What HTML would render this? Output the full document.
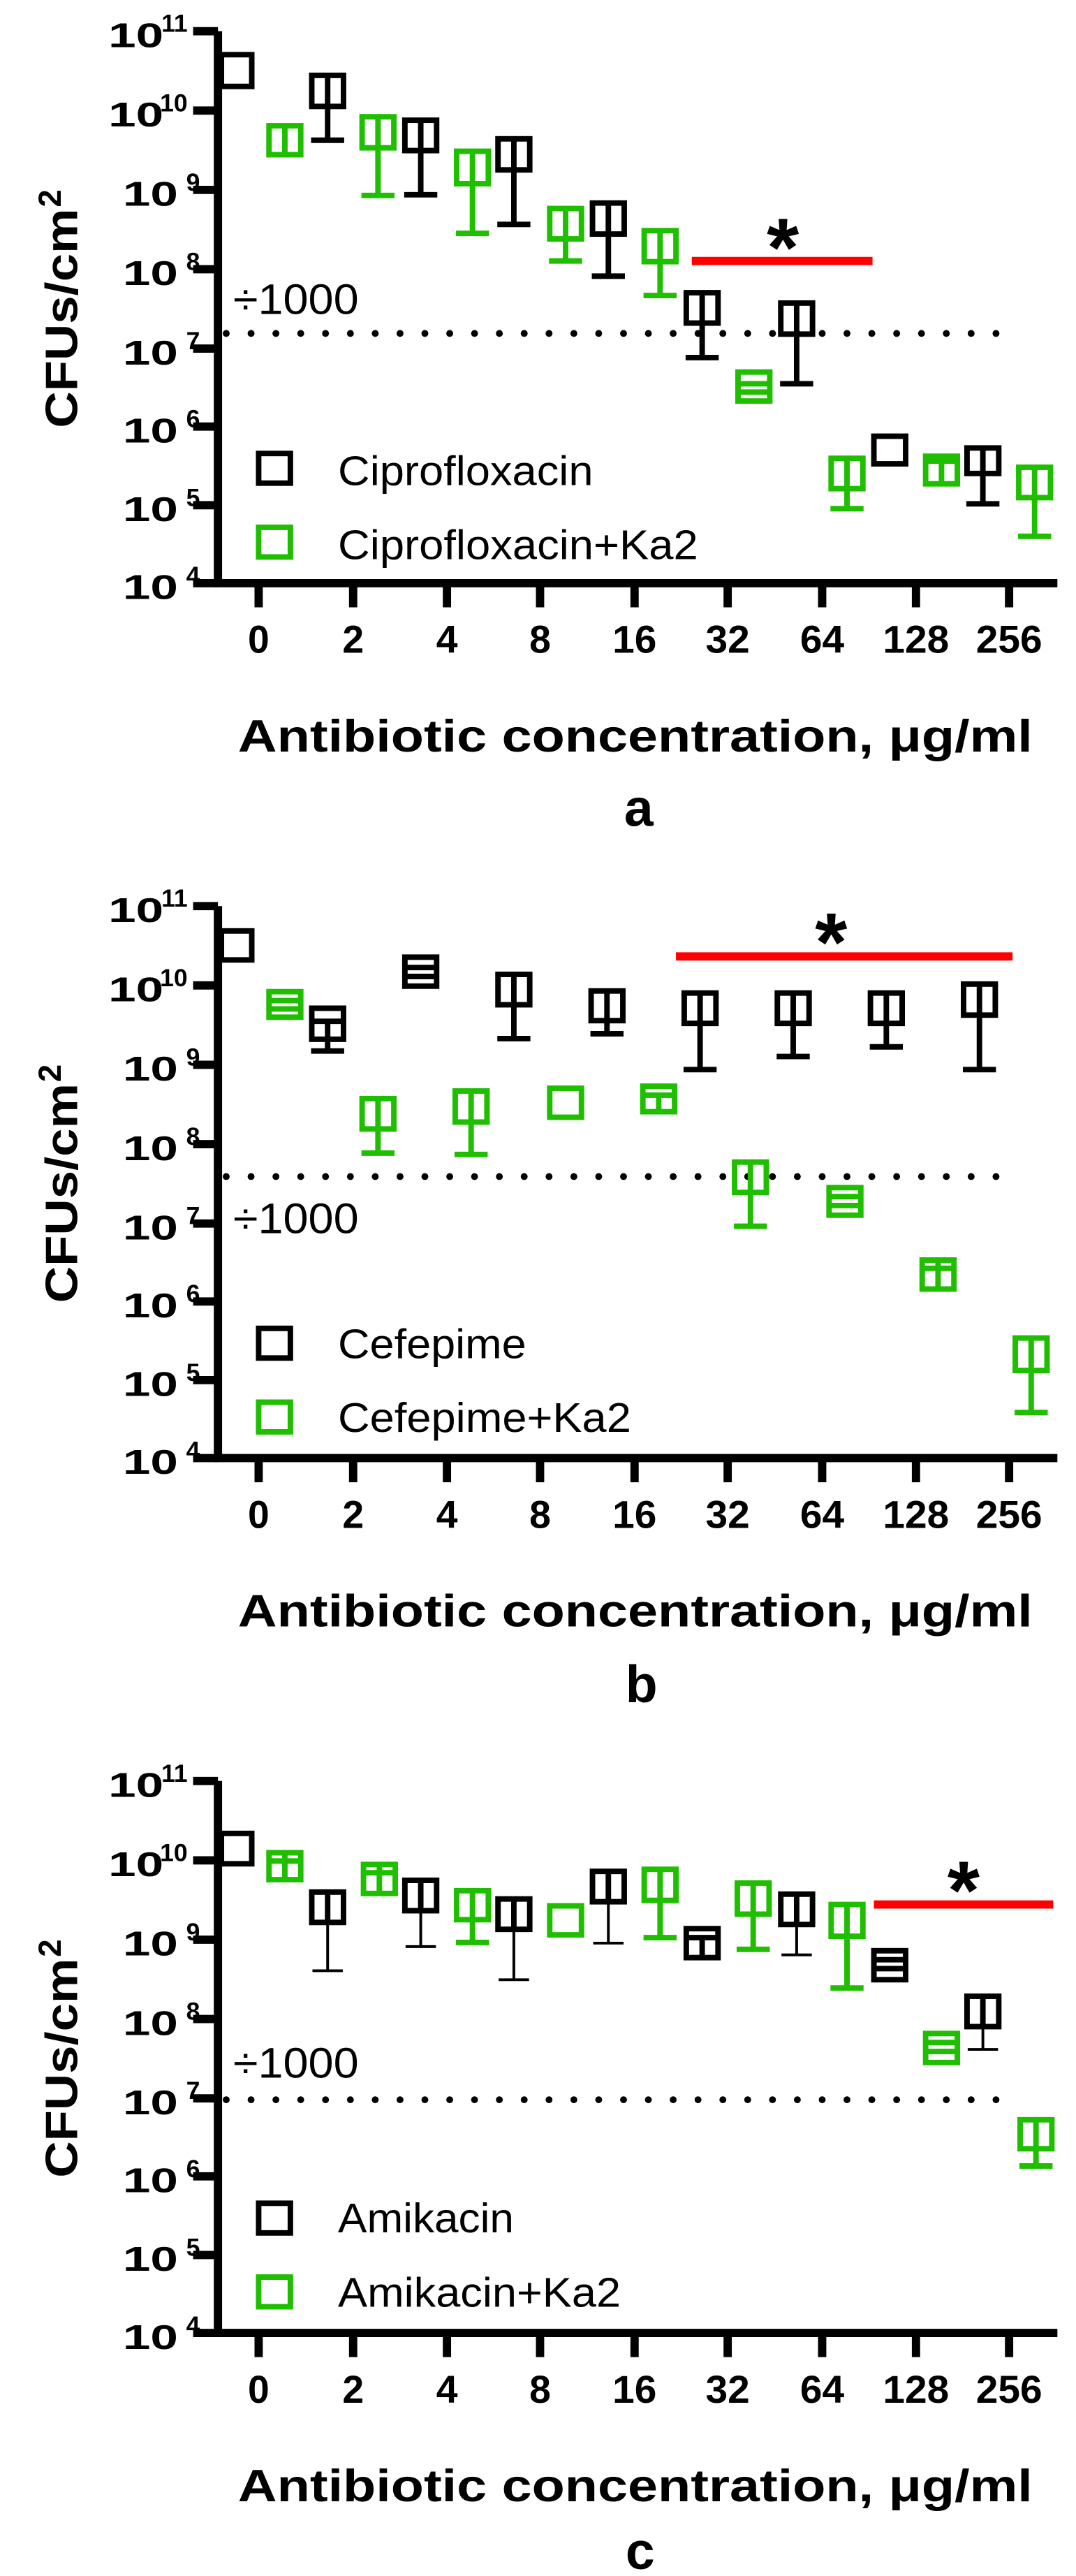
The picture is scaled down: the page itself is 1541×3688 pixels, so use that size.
<!DOCTYPE html>
<html><head><meta charset="utf-8"><style>html,body{margin:0;padding:0;background:#fff}svg{display:block}</style></head>
<body>
<svg xmlns="http://www.w3.org/2000/svg" width="1541" height="3688" viewBox="0 0 1560 3733" font-family="Liberation Sans, Arial, sans-serif">
<defs>
<g id="axes">
  <path d="M316 45 V845 H1533" fill="none" stroke="#000" stroke-width="12"/>
  <path d="M280 45H316M280 160H316M280 275H316M280 390H316M280 505H316M280 618H316M280 732H316M280 845H316" stroke="#000" stroke-width="12"/>
  <path d="M375 845V880M512 845V880M648 845V880M783 845V880M920 845V880M1055 845V880M1192 845V880M1328 845V880M1463 845V880" stroke="#000" stroke-width="12"/>
  <g font-weight="bold" font-size="50" text-anchor="end" lengthAdjust="spacingAndGlyphs">
    <text x="237" y="68" textLength="80" lengthAdjust="spacingAndGlyphs">10</text>
    <text x="237" y="183" textLength="80" lengthAdjust="spacingAndGlyphs">10</text>
    <text x="258" y="298" textLength="80" lengthAdjust="spacingAndGlyphs">10</text>
    <text x="258" y="413" textLength="80" lengthAdjust="spacingAndGlyphs">10</text>
    <text x="258" y="528" textLength="80" lengthAdjust="spacingAndGlyphs">10</text>
    <text x="258" y="641" textLength="80" lengthAdjust="spacingAndGlyphs">10</text>
    <text x="258" y="755" textLength="80" lengthAdjust="spacingAndGlyphs">10</text>
    <text x="258" y="868" textLength="80" lengthAdjust="spacingAndGlyphs">10</text>
  </g>
  <g font-weight="bold" font-size="36" text-anchor="end">
    <text x="272" y="46">11</text><text x="272" y="161">10</text>
    <text x="290" y="276">9</text><text x="290" y="391">8</text><text x="290" y="506">7</text>
    <text x="290" y="619">6</text><text x="290" y="733">5</text><text x="290" y="846">4</text>
  </g>
  <g font-weight="bold" font-size="56" text-anchor="middle">
    <text x="375" y="946">0</text><text x="512" y="946">2</text><text x="648" y="946">4</text>
    <text x="783" y="946">8</text>
    <text x="920" y="946" textLength="64" lengthAdjust="spacingAndGlyphs">16</text>
    <text x="1055" y="946" textLength="64" lengthAdjust="spacingAndGlyphs">32</text>
    <text x="1192" y="946" textLength="64" lengthAdjust="spacingAndGlyphs">64</text>
    <text x="1328" y="946" textLength="96" lengthAdjust="spacingAndGlyphs">128</text>
    <text x="1463" y="946" textLength="96" lengthAdjust="spacingAndGlyphs">256</text>
  </g>
  <text x="345" y="1089" font-weight="bold" font-size="66" textLength="1152" lengthAdjust="spacingAndGlyphs">Antibiotic concentration, μg/ml</text>
  <g transform="translate(112,620) rotate(-90)" font-weight="bold">
    <text x="0" y="0" font-size="66" textLength="318" lengthAdjust="spacingAndGlyphs">CFUs/cm</text>
    <text x="320" y="-24" font-size="46">2</text>
  </g>
  <rect x="375" y="657" width="46" height="43" fill="none" stroke="#000" stroke-width="8"/>
  <rect x="375" y="764" width="46" height="43" fill="none" stroke="#1fbf00" stroke-width="8"/>
</g>
</defs>

<!-- Panel a -->
<use href="#axes"/>
<text x="926" y="1197" font-weight="bold" font-size="76" text-anchor="middle">a</text>
<text x="490" y="703" font-size="60" textLength="370" lengthAdjust="spacingAndGlyphs">Ciprofloxacin</text>
<text x="490" y="810" font-size="60" textLength="522" lengthAdjust="spacingAndGlyphs">Ciprofloxacin+Ka2</text>
<text x="338" y="455" font-size="62" textLength="182" lengthAdjust="spacingAndGlyphs">÷1000</text>
<line x1="328" y1="483" x2="1460" y2="483" stroke="#000" stroke-width="10" stroke-linecap="round" stroke-dasharray="0 36"/>
<line x1="1003" y1="378" x2="1265" y2="378" stroke="#f00" stroke-width="12"/>
<text x="1135" y="400" font-weight="bold" font-size="120" text-anchor="middle">*</text>
<g fill="none" stroke="#000" stroke-width="8">
  <rect x="321" y="79" width="44" height="46"/>
  <rect x="452" y="109" width="46" height="45"/><path d="M475 109V203M451 203H499"/>
  <rect x="587" y="174" width="46" height="44"/><path d="M610 174V282M586 282H634"/>
  <rect x="722" y="201" width="46" height="45"/><path d="M745 201V325M721 325H769"/>
  <rect x="859" y="294" width="46" height="45"/><path d="M882 294V400M858 400H906"/>
  <rect x="995" y="424" width="46" height="44"/><path d="M1018 424V518M994 518H1042"/>
  <rect x="1132" y="439" width="46" height="45"/><path d="M1155 439V556M1131 556H1179"/>
  <rect x="1267" y="632" width="46" height="40"/>
  <rect x="1402" y="649" width="46" height="37"/><path d="M1425 649V730M1401 730H1449"/>
</g>
<g fill="none" stroke="#1fbf00" stroke-width="8">
  <rect x="390" y="182" width="46" height="42"/><path d="M413 182V224"/>
  <rect x="525" y="169" width="46" height="45"/><path d="M548 169V283M524 283H572"/>
  <rect x="662" y="219" width="46" height="47"/><path d="M685 219V338M661 338H709"/>
  <rect x="797" y="302" width="46" height="44"/><path d="M820 302V378M796 378H844"/>
  <rect x="934" y="334" width="46" height="45"/><path d="M957 334V428M933 428H981"/>
  <rect x="1070" y="539" width="46" height="42"/><path d="M1070 556H1116M1070 568H1116"/>
  <rect x="1205" y="664" width="46" height="44"/><path d="M1228 664V737M1204 737H1252"/>
  <rect x="1342" y="661" width="46" height="40"/><path d="M1342 668H1388M1365 668V701"/>
  <rect x="1477" y="677" width="46" height="44"/><path d="M1500 677V777M1476 777H1524"/>
</g>

<!-- Panel b -->
<use href="#axes" y="1268"/>
<g transform="translate(0,1265)">
<text x="930" y="1202" font-weight="bold" font-size="76" text-anchor="middle">b</text>
<text x="490" y="703" font-size="60" textLength="273" lengthAdjust="spacingAndGlyphs">Cefepime</text>
<text x="490" y="810" font-size="60" textLength="425" lengthAdjust="spacingAndGlyphs">Cefepime+Ka2</text>
<text x="338" y="522" font-size="62" textLength="182" lengthAdjust="spacingAndGlyphs">÷1000</text>
<line x1="328" y1="440" x2="1472" y2="440" stroke="#000" stroke-width="10" stroke-linecap="round" stroke-dasharray="0 36"/>
<line x1="980" y1="121" x2="1468" y2="121" stroke="#f00" stroke-width="12"/>
<text x="1205" y="142" font-weight="bold" font-size="120" text-anchor="middle">*</text>
<g fill="none" stroke="#000" stroke-width="8">
  <rect x="321" y="84" width="44" height="42"/>
  <rect x="452" y="196" width="46" height="45"/><path d="M452 215H498M475 215V258M451 258H499"/>
  <rect x="587" y="122" width="46" height="42"/><path d="M587 137H633M587 150H633"/>
  <rect x="722" y="147" width="46" height="44"/><path d="M745 147V240M721 240H769"/>
  <rect x="857" y="171" width="46" height="43"/><path d="M880 171V233M856 233H904"/>
  <rect x="992" y="174" width="46" height="44"/><path d="M1015 174V285M991 285H1039"/>
  <rect x="1127" y="174" width="46" height="44"/><path d="M1150 174V266M1126 266H1174"/>
  <rect x="1262" y="174" width="46" height="44"/><path d="M1285 174V252M1261 252H1309"/>
  <rect x="1397" y="161" width="46" height="45"/><path d="M1420 161V285M1396 285H1444"/>
</g>
<g fill="none" stroke="#1fbf00" stroke-width="8">
  <rect x="390" y="172" width="46" height="37"/><path d="M390 185H436M390 197H436"/>
  <rect x="525" y="327" width="46" height="44"/><path d="M548 327V406M524 406H572"/>
  <rect x="660" y="316" width="46" height="45"/><path d="M683 316V408M659 408H707"/>
  <rect x="797" y="312" width="46" height="42"/>
  <rect x="932" y="309" width="46" height="37"/><path d="M932 322H978M955 322V346"/>
  <rect x="1065" y="419" width="46" height="44"/><path d="M1088 419V512M1064 512H1112"/>
  <rect x="1202" y="456" width="46" height="40"/><path d="M1202 469H1248M1202 482H1248"/>
  <rect x="1337" y="561" width="46" height="42"/><path d="M1360 561V603M1337 573H1383"/>
  <rect x="1472" y="674" width="46" height="47"/><path d="M1495 674V782M1471 782H1519"/>
</g>
</g>

<!-- Panel c -->
<use href="#axes" y="2536"/>
<g transform="translate(0,2173)">
<text x="928" y="1550" font-weight="bold" font-size="76" text-anchor="middle">c</text>
<text x="490" y="1062" font-size="60" textLength="255" lengthAdjust="spacingAndGlyphs">Amikacin</text>
<text x="490" y="1170" font-size="60" textLength="410" lengthAdjust="spacingAndGlyphs">Amikacin+Ka2</text>
<text x="338" y="838" font-size="62" textLength="182" lengthAdjust="spacingAndGlyphs">÷1000</text>
<line x1="328" y1="870" x2="1470" y2="870" stroke="#000" stroke-width="10" stroke-linecap="round" stroke-dasharray="0 36"/>
<line x1="1267" y1="587" x2="1527" y2="587" stroke="#f00" stroke-width="12"/>
<text x="1397" y="608" font-weight="bold" font-size="120" text-anchor="middle">*</text>
<g fill="none" stroke="#000" stroke-width="8">
  <rect x="321" y="484" width="44" height="44"/>
  <rect x="452" y="569" width="46" height="44"/><path d="M475 569V613"/>
  <rect x="587" y="552" width="46" height="44"/><path d="M610 552V596"/>
  <rect x="722" y="579" width="46" height="44"/><path d="M745 579V623"/>
  <rect x="859" y="539" width="46" height="44"/><path d="M882 539V583"/>
  <rect x="995" y="622" width="46" height="42"/><path d="M995 635H1041M1018 635V664"/>
  <rect x="1132" y="572" width="46" height="44"/><path d="M1155 572V616"/>
  <rect x="1267" y="654" width="46" height="42"/><path d="M1267 667H1313M1267 680H1313"/>
  <rect x="1402" y="720" width="46" height="44"/><path d="M1425 720V764"/>
</g>
<g fill="none" stroke="#000" stroke-width="4">
  <path d="M475 613V683M453 683H497"/>
  <path d="M610 596V648M588 648H632"/>
  <path d="M745 623V696M723 696H767"/>
  <path d="M882 583V643M860 643H904"/>
  <path d="M1155 616V660M1133 660H1177"/>
  <path d="M1425 764V797M1403 797H1447"/>
</g>
<g fill="none" stroke="#1fbf00" stroke-width="8">
  <rect x="390" y="512" width="46" height="39"/><path d="M413 512V551M390 524H436"/>
  <rect x="527" y="529" width="46" height="42"/><path d="M550 529V571M527 541H573"/>
  <rect x="662" y="567" width="46" height="42"/><path d="M685 567V642M661 642H709"/>
  <rect x="797" y="589" width="46" height="42"/>
  <rect x="934" y="536" width="46" height="45"/><path d="M957 536V635M933 635H981"/>
  <rect x="1069" y="556" width="46" height="45"/><path d="M1092 556V652M1068 652H1116"/>
  <rect x="1205" y="587" width="46" height="46"/><path d="M1228 587V708M1204 708H1252"/>
  <rect x="1342" y="774" width="46" height="42"/><path d="M1342 787H1388M1342 800H1388"/>
  <rect x="1479" y="899" width="46" height="42"/><path d="M1502 899V966M1478 966H1526"/>
</g>
</g>
</svg>
</body></html>
